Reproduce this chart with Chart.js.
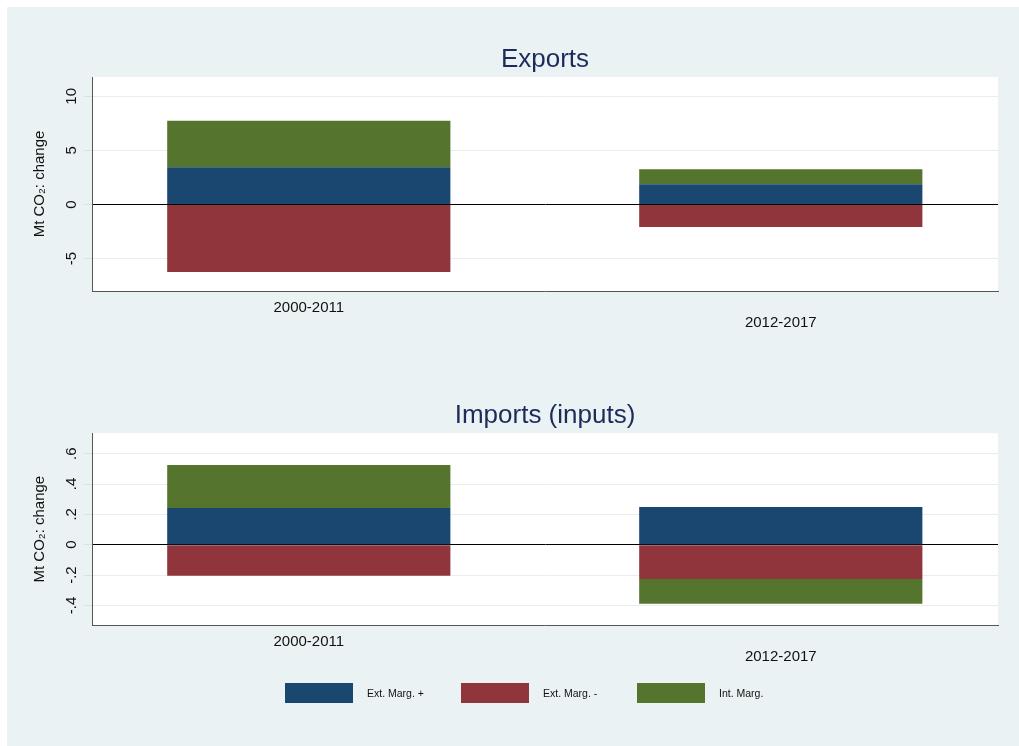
<!DOCTYPE html>
<html>
<head>
<meta charset="utf-8">
<script src="https://cdn.jsdelivr.net/npm/chart.js@4.4.0/dist/chart.umd.min.js"></script>
<style>
  html, body { margin: 0; padding: 0; background: #fff; width: 1019px; height: 746px; overflow: hidden; }
  #frame { position: absolute; left: 7px; top: 7px; width: 1012px; height: 739px; background: #eaf2f3; }
  .panel { position: absolute; left: 0; width: 1019px; }
  #topPanel { top: 0; height: 345px; }
  #bottomPanel { top: 345px; height: 401px; }
  #legend { position: absolute; left: 285px; top: 683px; display: flex;
            font-family: "Liberation Sans", Arial, sans-serif; font-size: 10.5px; color: #111; }
  .item { width: 176px; display: flex; align-items: center; }
  .swatch { width: 68px; height: 20px; margin-right: 14px; }
</style>
</head>
<body>
<div id="frame"></div>
<div class="panel" id="topPanel"><canvas id="exports"></canvas></div>
<div class="panel" id="bottomPanel"><canvas id="imports"></canvas></div>
<div id="legend"></div>
<script>
const categories = ['2000-2011', '2012-2017'];
const seriesNames = ['Ext. Marg. +', 'Ext. Marg. -', 'Int. Marg.'];
const seriesColors = ['#1a476f', '#90353b', '#55752f'];

// Exports (Mt CO2 change)
const exportsExtPlus = [3.45, 1.88];
const exportsExtMinus = [-6.24, -2.07];
const exportsInt = [4.30, 1.39];
const exportsTicks = [-5, 0, 5, 10];

// Imports (inputs)
const importsExtPlus = [0.242, 0.248];
const importsExtMinus = [-0.204, -0.226];
const importsInt = [0.283, -0.163];
const importsTicks = [-0.4, -0.2, 0, 0.2, 0.4, 0.6];

const fontFamily = '"Liberation Sans", Arial, sans-serif';
const textColor = '#111';

const plotBackground = {
    id: 'plotBackground',
    beforeDraw(chart) {
        const { ctx, chartArea: a } = chart;
        ctx.save();
        ctx.fillStyle = '#ffffff';
        ctx.fillRect(a.left, a.top, a.right - a.left, a.bottom - a.top);
        ctx.restore();
    }
};

// Stata style tick label: .6, -.4, 0
function stataNum(v) {
    return String(v).replace('0.', '.');
}

function makeChart(canvasId, titleText, seriesValues, opts) {
    const datasets = seriesValues.map((vals, s) => ({
        label: seriesNames[s],
        data: categories.map((c, i) => ({ x: i, y: vals[i] })),
        backgroundColor: seriesColors[s],
        borderWidth: 0,
        barPercentage: 0.6,
        categoryPercentage: 1.0
    }));

    return new Chart(document.getElementById(canvasId), {
        type: 'bar',
        data: { datasets: datasets },
        plugins: [plotBackground],
        options: {
            responsive: true,
            maintainAspectRatio: false,
            animation: false,
            layout: { padding: { left: 0, right: 21, top: 0, bottom: 0 } },
            plugins: {
                legend: { display: false },
                tooltip: { enabled: false },
                title: {
                    display: true,
                    text: titleText,
                    fullSize: false,
                    color: '#1c2c5a',
                    font: { family: fontFamily, size: 26, weight: 'normal', lineHeight: 1.2 },
                    padding: opts.titlePadding
                }
            },
            scales: {
                x: {
                    type: 'linear',
                    stacked: true,
                    offset: false,
                    min: -0.4593,
                    max: 1.4602,
                    afterBuildTicks: s => { s.ticks = categories.map((c, i) => ({ value: i })); },
                    afterFit: s => { s.height = opts.xHeight; },
                    ticks: {
                        autoSkip: false,
                        maxRotation: 0,
                        padding: 9,
                        color: textColor,
                        font: { family: fontFamily, size: 15, lineHeight: 1 },
                        callback: (v, i) => i % 2 ? ['', categories[v]] : categories[v]
                    },
                    grid: { display: false, drawTicks: false, offset: false },
                    border: { display: true, color: '#555', width: 1 }
                },
                y: {
                    stacked: true,
                    min: opts.yMin,
                    max: opts.yMax,
                    afterBuildTicks: s => { s.ticks = opts.yTicks.map(v => ({ value: v })); },
                    afterFit: s => { s.width = 92; },
                    ticks: {
                        minRotation: 90,
                        maxRotation: 90,
                        crossAlign: 'center',
                        padding: opts.tickPadding,
                        color: textColor,
                        font: { family: fontFamily, size: 15 },
                        callback: v => stataNum(v)
                    },
                    grid: {
                        color: c => (c.tick && c.tick.value === 0) ? '#000000' : '#e6eef0',
                        tickColor: '#d9e3e6',
                        tickLength: 8,
                        lineWidth: 1
                    },
                    border: { display: true, color: '#555', width: 1 },
                    title: {
                        display: true,
                        text: 'Mt CO₂: change',
                        color: textColor,
                        font: { family: fontFamily, size: 15 },
                        padding: { top: 30.5, bottom: 0 }
                    }
                }
            }
        }
    });
}

makeChart('exports', 'Exports', [exportsExtPlus, exportsExtMinus, exportsInt], {
    yMin: -8.0, yMax: 11.79, yTicks: exportsTicks,
    titlePadding: { top: 44.4, bottom: 1.4 },
    tickPadding: 3.7,
    xHeight: 54
});

makeChart('imports', 'Imports (inputs)', [importsExtPlus, importsExtMinus, importsInt], {
    yMin: -0.5293, yMax: 0.7343, yTicks: importsTicks,
    titlePadding: { top: 55.4, bottom: 1.7 },
    tickPadding: 3.3,
    xHeight: 121
});

// legend built from the series arrays
const legendEl = document.getElementById('legend');
seriesNames.forEach((name, s) => {
    const item = document.createElement('div');
    item.className = 'item';
    const sw = document.createElement('div');
    sw.className = 'swatch';
    sw.style.background = seriesColors[s];
    const txt = document.createElement('span');
    txt.textContent = name;
    item.appendChild(sw);
    item.appendChild(txt);
    legendEl.appendChild(item);
});
</script>
</body>
</html>
